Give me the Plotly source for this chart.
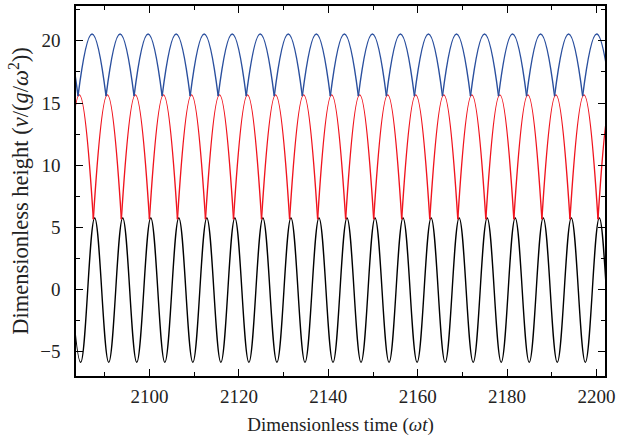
import plotly.graph_objects as go

# plate (black): times of crests and troughs
plate_peak_t = [2081.46, 2087.73, 2094.00, 2100.28, 2106.55, 2112.82, 2119.09,
                2125.36, 2131.64, 2137.91, 2144.18, 2150.45, 2156.72, 2163.00,
                2169.27, 2175.54, 2181.81, 2188.08, 2194.36, 2200.63, 2206.90]
plate_trough_t = [2084.60, 2090.87, 2097.14, 2103.42, 2109.69, 2115.96, 2122.23,
                  2128.50, 2134.78, 2141.05, 2147.32, 2153.59, 2159.86, 2166.14,
                  2172.41, 2178.68, 2184.95, 2191.22, 2197.50, 2203.77]
plate_peak_y = 5.75
plate_trough_y = -5.85

# lower ball (red): impact times and apex times
red_impact_t = [2081.16, 2087.43, 2093.70, 2099.98, 2106.25, 2112.52, 2118.79,
                2125.06, 2131.34, 2137.61, 2143.88, 2150.15, 2156.42, 2162.70,
                2168.97, 2175.24, 2181.51, 2187.78, 2194.06, 2200.33, 2206.60]
red_apex_t = [2084.30, 2090.57, 2096.84, 2103.12, 2109.39, 2115.66, 2121.93,
              2128.20, 2134.48, 2140.75, 2147.02, 2153.29, 2159.56, 2165.84,
              2172.11, 2178.38, 2184.65, 2190.92, 2197.20, 2203.47]
red_impact_y = 5.65
red_apex_y = 15.65

# upper ball (blue): impact times and apex times
blue_impact_t = [2077.73, 2084.00, 2090.27, 2096.54, 2102.82, 2109.09, 2115.36,
                 2121.63, 2127.90, 2134.18, 2140.45, 2146.72, 2152.99, 2159.26,
                 2165.54, 2171.81, 2178.08, 2184.35, 2190.62, 2196.90, 2203.17]
blue_apex_t = [2080.87, 2087.14, 2093.41, 2099.68, 2105.96, 2112.23, 2118.50,
               2124.77, 2131.04, 2137.32, 2143.59, 2149.86, 2156.13, 2162.40,
               2168.68, 2174.95, 2181.22, 2187.49, 2193.76, 2200.04]
blue_impact_y = 15.56
blue_apex_y = 20.55

x_ticks = [2100, 2120, 2140, 2160, 2180, 2200]
y_ticks = [-5, 0, 5, 10, 15, 20]


def plate_xy():
    xs, ys = [], []
    for i, tp in enumerate(plate_peak_t):
        xs.append(tp)
        ys.append(plate_peak_y)
        if i < len(plate_trough_t):
            xs.append(plate_trough_t[i])
            ys.append(plate_trough_y)
    return xs, ys


def arcs_xy(impact_t, apex_t, y0, y1):
    # one piece per flight, broken at every impact so the cusps stay sharp
    xs, ys = [], []
    for i, ta in enumerate(apex_t):
        xs += [impact_t[i], ta, impact_t[i + 1], None]
        ys += [y0, y1, y0, None]
    return xs, ys


px, py = plate_xy()
rx, ry = arcs_xy(red_impact_t, red_apex_t, red_impact_y, red_apex_y)
bx, by = arcs_xy(blue_impact_t, blue_apex_t, blue_impact_y, blue_apex_y)

plate = go.Scatter(x=px, y=py, mode='lines',
                   line=dict(color='black', width=1.4, shape='spline', smoothing=1.1))
red = go.Scatter(x=rx, y=ry, mode='lines', connectgaps=False,
                 line=dict(color='#f0141e', width=1.4, shape='spline', smoothing=1.3))
blue = go.Scatter(x=bx, y=by, mode='lines', connectgaps=False,
                  line=dict(color='#2a4f9e', width=1.4, shape='spline', smoothing=1.3))

serif = 'Liberation Serif'
axis_common = dict(showline=True, linecolor='black', linewidth=1.5, mirror='allticks',
                   ticks='inside', ticklen=7, tickwidth=1.2, tickcolor='black',
                   showgrid=False, zeroline=False, automargin=False,
                   tickfont=dict(family=serif, size=19, color='#222'),
                   minor=dict(ticks='inside', ticklen=4, tickwidth=1.2, tickcolor='black'))

layout = go.Layout(
    template='none',
    width=617, height=440,
    margin=dict(l=76, r=12, t=6, b=64),
    plot_bgcolor='white', paper_bgcolor='white',
    font=dict(family=serif, size=19, color='#222'),
    showlegend=False,
    xaxis=dict(range=[2083.55, 2201.9], tickvals=x_ticks, ticklabelstandoff=2,
               title=dict(text='Dimensionless time (<i>ωt</i>)', standoff=12,
                          font=dict(family=serif, size=19)),
               **axis_common),
    yaxis=dict(range=[-6.95, 22.8], tickvals=y_ticks, ticklabelstandoff=10,
               title=dict(text='Dimensionless height (<i>v</i>/(<i>g</i>/<i>ω</i><sup>2</sup>))',
                          standoff=5, font=dict(family=serif, size=22.5)),
               **axis_common),
)
layout.xaxis.minor.dtick = 10
layout.yaxis.minor.dtick = 2.5

fig = go.Figure([plate, red, blue], layout=layout)
# page body has an 8px default margin; drop it so the figure sits at the corner
fig.write_html("out.html", config={'displayModeBar': False},
               post_script="document.body.style.margin = '0';")
